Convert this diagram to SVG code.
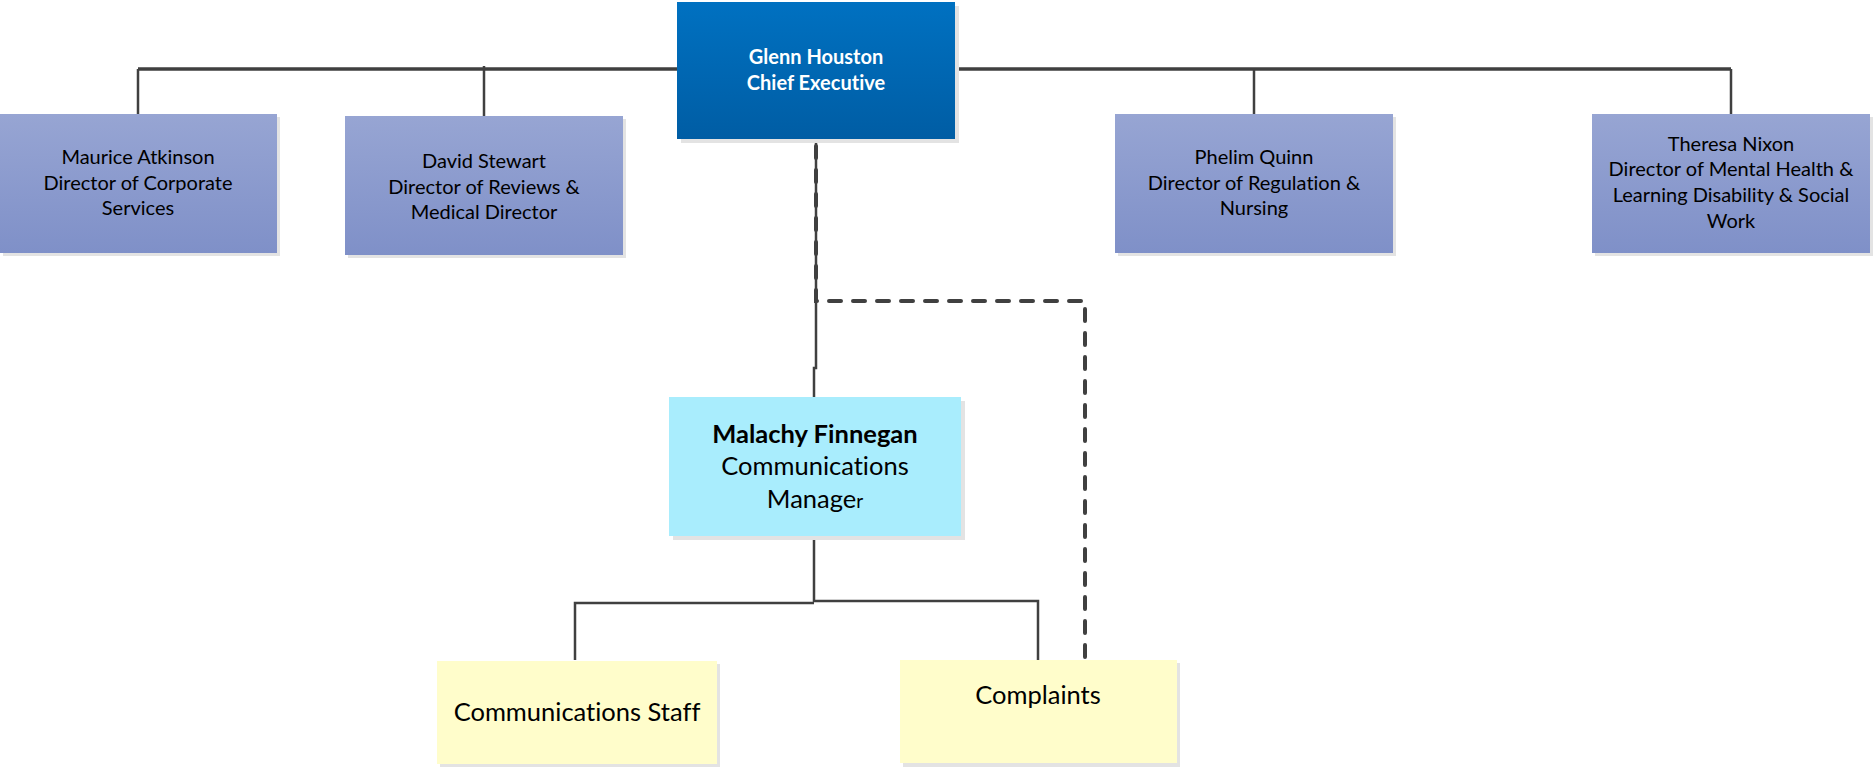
<svg xmlns="http://www.w3.org/2000/svg" width="1874" height="767" viewBox="0 0 1874 767">
<defs>
<linearGradient id="gBlue" x1="0" y1="0" x2="0" y2="1"><stop offset="0" stop-color="#0071c1"/><stop offset="1" stop-color="#005da4"/></linearGradient>
<linearGradient id="gDir" x1="0" y1="0" x2="0" y2="1"><stop offset="0" stop-color="#97a5d3"/><stop offset="1" stop-color="#7f90c8"/></linearGradient>
<style>
.sh{fill:#e3e3e3}
.dir{fill:url(#gDir)}
.t{font-family:Lato,"Open Sans",sans-serif;text-anchor:middle;fill:#000;font-variant-ligatures:none}
.d{font-size:20px}
.w{fill:#fff;font-weight:bold;font-size:20px}
.big{font-size:25.5px}
.ln{fill:none;stroke:#404040;stroke-width:2.5}
.hl{fill:none;stroke:#404040;stroke-width:3.5}
.ds{fill:none;stroke:#404040;stroke-width:4;stroke-dasharray:12 12;stroke-linecap:round}
</style>
</defs>
<rect width="1874" height="767" fill="#fff"/>
<g id="connectors">
<path class="hl" d="M138,69 H677 M955,69 H1731"/>
<path class="ln" d="M138,69 V114 M484,66 V116 M1254,69 V114 M1731,69 V114"/>
<path class="ln" d="M816,139 V368 H814 V397"/>
<path class="ds" d="M816,146 V301 H1085 V660"/>
<path class="ln" d="M814,536 V602 M575,660 V603 H814 M814,601 H1038 V660"/>
</g>
<g id="glenn">
<rect class="sh" x="681" y="6" width="278" height="137"/>
<rect x="677" y="2" width="278" height="137" fill="url(#gBlue)"/>
<text class="t w" x="816" y="64">Glenn Houston</text>
<text class="t w" x="816" y="90">Chief Executive</text>
</g>
<g id="maurice">
<rect class="sh" x="3" y="117" width="277" height="139"/>
<rect class="dir" x="0" y="114" width="277" height="139"/>
<text class="t d" x="138" y="164">Maurice Atkinson</text>
<text class="t d" x="138" y="190">Director of Corporate</text>
<text class="t d" x="138" y="215">Services</text>
</g>
<g id="david">
<rect class="sh" x="348" y="119" width="278" height="139"/>
<rect class="dir" x="345" y="116" width="278" height="139"/>
<text class="t d" x="484" y="168">David Stewart</text>
<text class="t d" x="484" y="194">Director of Reviews &amp;</text>
<text class="t d" x="484" y="219">Medical Director</text>
</g>
<g id="phelim">
<rect class="sh" x="1118" y="117" width="278" height="139"/>
<rect class="dir" x="1115" y="114" width="278" height="139"/>
<text class="t d" x="1254" y="164">Phelim Quinn</text>
<text class="t d" x="1254" y="190">Director of Regulation &amp;</text>
<text class="t d" x="1254" y="215">Nursing</text>
</g>
<g id="theresa">
<rect class="sh" x="1595" y="117" width="278" height="139"/>
<rect class="dir" x="1592" y="114" width="278" height="139"/>
<text class="t d" x="1731" y="151">Theresa Nixon</text>
<text class="t d" x="1731" y="176">Director of Mental Health &amp;</text>
<text class="t d" x="1731" y="202">Learning Disability &amp; Social</text>
<text class="t d" x="1731" y="228">Work</text>
</g>
<g id="malachy">
<rect class="sh" x="673" y="401" width="292" height="139"/>
<rect x="669" y="397" width="292" height="139" fill="#a9edfd"/>
<text class="t big" x="815" y="443" font-weight="bold">Malachy Finnegan</text>
<text class="t big" x="815" y="475">Communications</text>
<text class="t big" x="815" y="508">Manage<tspan font-size="19">r</tspan></text>
</g>
<g id="staff">
<rect class="sh" x="440" y="664" width="280" height="103"/>
<rect x="437" y="661" width="280" height="103" fill="#fffdcb"/>
<text class="t big" x="577" y="721">Communications Staff</text>
</g>
<g id="complaints">
<rect class="sh" x="903" y="663" width="277" height="104"/>
<rect x="900" y="660" width="277" height="103" fill="#fffdcb"/>
<text class="t big" x="1038" y="704">Complaints</text>
</g>
</svg>
